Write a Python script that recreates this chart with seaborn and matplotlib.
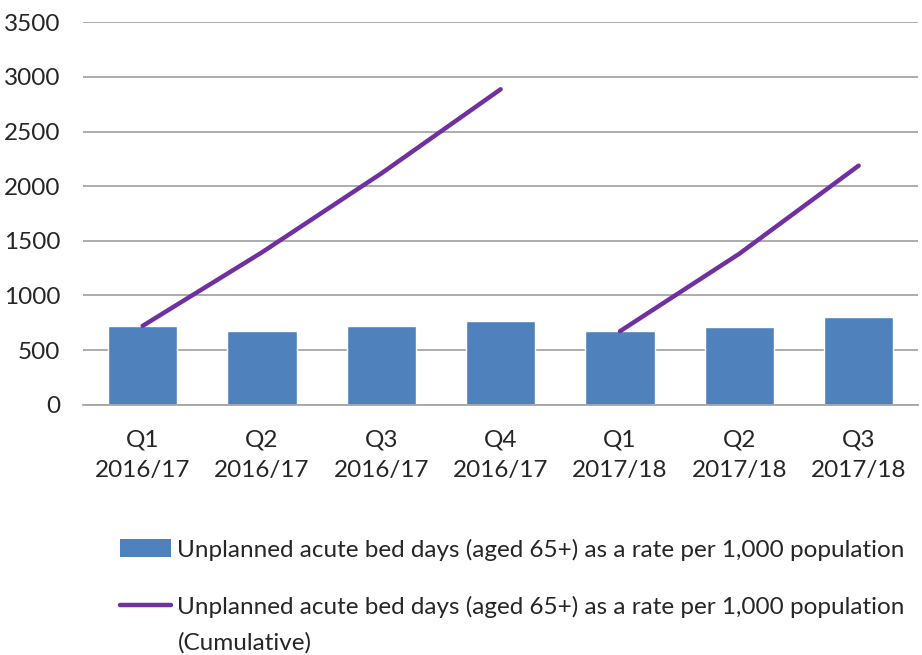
import matplotlib
matplotlib.use("Agg")
import matplotlib.pyplot as plt
from matplotlib.patches import Patch
from matplotlib.lines import Line2D
import pandas as pd
import seaborn as sns

# Werte
quarters = ["Q1\n2016/17", "Q2\n2016/17", "Q3\n2016/17", "Q4\n2016/17",
            "Q1\n2017/18", "Q2\n2017/18", "Q3\n2017/18"]
years = ["2016/17", "2016/17", "2016/17", "2016/17", "2017/18", "2017/18", "2017/18"]
rate = [722, 673, 722, 770, 673, 709, 806]
cumulative = [722, 1395, 2117, 2887, 673, 1382, 2188]

bar_label = "Unplanned acute bed days (aged 65+) as a rate per 1,000 population"
line_label = "Unplanned acute bed days (aged 65+) as a rate per 1,000 population"
line_label_2 = "(Cumulative)"

BLUE = "#4F81BD"
PURPLE = "#7030A0"
FS = 17.5

sns.set_theme(style="white")
plt.rcParams["font.family"] = ["Lato", "DejaVu Sans"]

df = pd.DataFrame({"quarter": quarters, "year": years, "rate": rate,
                   "cumulative": cumulative, "pos": range(len(quarters))})

fig = plt.figure(figsize=(9.22, 6.55), dpi=100)
ax = fig.add_axes([0.090, 0.382, 0.906, 0.584])

sns.barplot(data=df, x="quarter", y="rate", color=BLUE, width=0.58,
            saturation=1, ax=ax, zorder=2)
sns.lineplot(data=df, x="pos", y="cumulative", units="year", estimator=None,
             color=PURPLE, linewidth=3.2, ax=ax, zorder=3, legend=False,
             solid_capstyle="round")

ax.set_ylim(0, 3500)
ax.set_yticks(range(0, 3501, 500))
ax.set_xlim(-0.5, len(quarters) - 0.5)
ax.set_xlabel("")
ax.set_ylabel("")
ax.grid(axis="y", color="#A6A6A6", linewidth=1.3, zorder=0)
ax.set_axisbelow(True)
for side in ["left", "right", "top"]:
    ax.spines[side].set_visible(False)
ax.spines["bottom"].set_color("#A6A6A6")
ax.spines["bottom"].set_linewidth(1.3)
ax.tick_params(axis="y", length=0, pad=16.5, labelsize=FS, labelcolor="#262626")
ax.tick_params(axis="x", length=0, pad=18, labelsize=FS, labelcolor="#262626")
for t in ax.get_xticklabels():
    t.set_linespacing(1.55)

handles = [Patch(facecolor=BLUE, edgecolor="none"),
           Line2D([0], [0], color=PURPLE, linewidth=3.2, solid_capstyle="round")]
leg = fig.legend(handles, [bar_label, line_label], loc="upper left",
                 bbox_to_anchor=(0.130, 0.178), frameon=False, fontsize=FS,
                 handlelength=2.1, handletextpad=0.25, labelspacing=1.45,
                 borderpad=0, borderaxespad=0, labelcolor="#262626")

# zweite Zeile des Linien-Eintrags
fig.text(0.193, 0.019, line_label_2, fontsize=FS, color="#262626",
         ha="left", va="center")

fig.savefig("out.png", dpi=100)
